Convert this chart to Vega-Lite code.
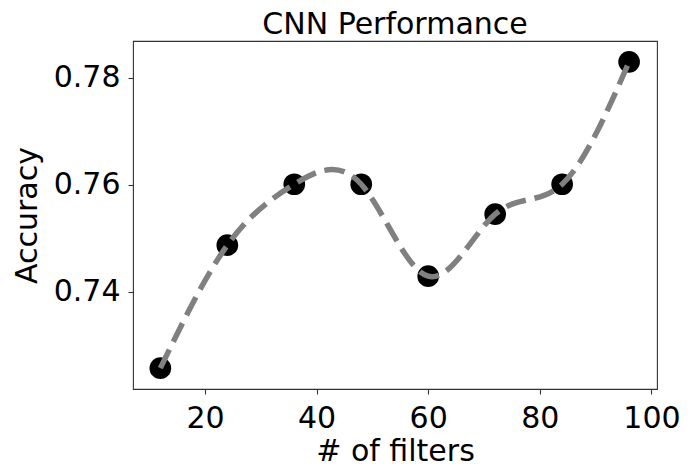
{
  "$schema": "https://vega.github.io/schema/vega-lite/v6.json",
  "width": 524,
  "height": 348,
  "autosize": {"type": "none"},
  "padding": {"left": 133, "top": 41, "right": 35, "bottom": 77},
  "background": "white",
  "title": {
    "text": "CNN Performance",
    "font": "DejaVu Sans",
    "fontSize": 30,
    "fontWeight": "normal",
    "color": "#000000",
    "anchor": "middle",
    "baseline": "alphabetic",
    "offset": 9,
    "dy": 32
  },
  "config": {
    "view": {"stroke": "#333333", "strokeWidth": 1.1},
    "axis": {
      "grid": false,
      "domain": false,
      "tickColor": "#333333",
      "tickWidth": 1.1,
      "tickSize": 5,
      "labelFont": "DejaVu Sans",
      "labelFontSize": 30,
      "labelColor": "#000000",
      "titleFont": "DejaVu Sans",
      "titleFontSize": 30,
      "titleFontWeight": "normal",
      "titleColor": "#000000"
    }
  },
  "data": {
    "values": [
      {"filters": 12, "accuracy": 0.7257},
      {"filters": 24, "accuracy": 0.7487},
      {"filters": 36, "accuracy": 0.7601},
      {"filters": 48, "accuracy": 0.7601},
      {"filters": 60, "accuracy": 0.7429},
      {"filters": 72, "accuracy": 0.7545},
      {"filters": 84, "accuracy": 0.7601},
      {"filters": 96, "accuracy": 0.783}
    ]
  },
  "encoding": {
    "x": {
      "field": "filters",
      "type": "quantitative",
      "scale": {"domain": [7.1, 101.0], "nice": false, "zero": false},
      "axis": {
        "title": "# of filters",
        "values": [20, 40, 60, 80, 100],
        "labelPadding": 9,
        "titleBaseline": "alphabetic",
        "titleY": 71
      }
    },
    "y": {
      "field": "accuracy",
      "type": "quantitative",
      "scale": {"domain": [0.7218, 0.7869], "nice": false, "zero": false},
      "axis": {
        "title": "Accuracy",
        "values": [0.74, 0.76, 0.78],
        "format": ".2f",
        "labelPadding": 8,
        "titleBaseline": "alphabetic",
        "titleX": -97,
        "titleY": 174,
        "titleAngle": -90
      }
    }
  },
  "layer": [
    {
      "mark": {"type": "point", "filled": true, "shape": "circle", "size": 470, "color": "#000000", "opacity": 1}
    },
    {
      "mark": {"type": "line", "interpolate": "natural", "color": "#808080", "strokeWidth": 5.5, "strokeDash": [20.5, 8.9]}
    }
  ]
}
